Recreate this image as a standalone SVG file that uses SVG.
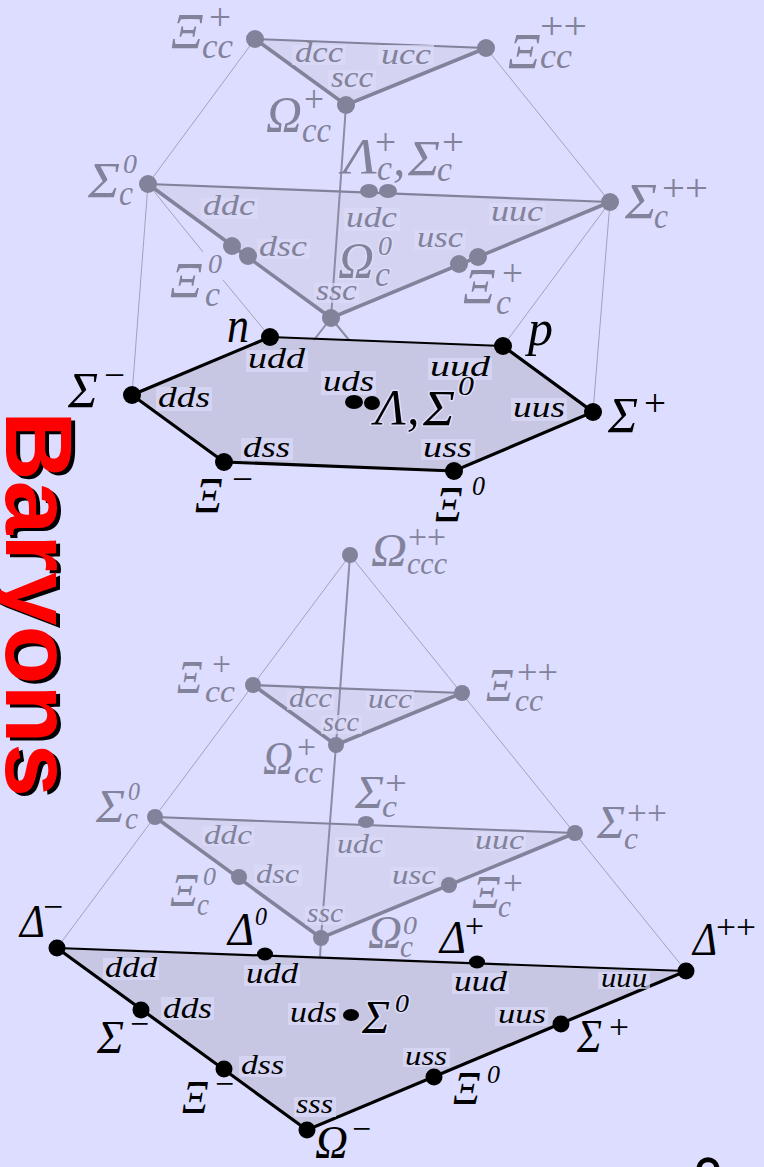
<svg xmlns="http://www.w3.org/2000/svg" width="764" height="1167" viewBox="0 0 764 1167">
<style>
text{font-family:"Liberation Serif","Times New Roman",serif;font-style:italic}
.up{font-family:"Liberation Serif","Times New Roman",serif;font-style:normal}
.k{fill:#000}.g{fill:#82829b}
.k circle,.k ellipse{fill:#000}.g circle,.g ellipse{fill:#82829b}
.q rect{fill:#dcdcf9;opacity:.7}
.qa{font-size:29px}.qb{font-size:27px}
.m{font-size:50px}.s{font-size:36px}.u{font-size:38px}.z{font-size:28px}
.mb{font-size:46px}.sb{font-size:32px}.ub{font-size:34px}.zb{font-size:26px}
.h{paint-order:stroke;stroke:#dcdcf9;stroke-width:3px;stroke-linejoin:round}
.thin{fill:none;stroke:#a2a2b8;stroke-width:1}
.mid{fill:none;stroke:#8c8ca4;stroke-width:2}
.gt{fill:none;stroke:#82829b;stroke-width:2.2}
.gk{fill:none;stroke:#82829b;stroke-width:3.6}
.bt{fill:none;stroke:#000;stroke-width:2.2}
.bk{fill:none;stroke:#000;stroke-width:3.2}
.fa{fill:#c7c7e4}.fb{fill:#d4d4f2}
.ttl{font-family:"Liberation Sans",Arial,sans-serif;font-weight:700;font-style:normal;font-size:94px}
</style>
<rect width="764" height="1167" fill="#ddddff"/>
<g id="faces">
<polygon class="fb" points="255,39 486,48 346,105"/>
<polygon class="fb" points="148,184 610,202 331,318"/>
<polygon class="fa" points="270,337 503,346 593,412 454,471 224,462 132,395"/>
<polygon class="fb" points="253,685 462,693 336,745"/>
<polygon class="fb" points="155,817 575,833 321,938"/>
<polygon class="fa" points="57,948 686,971 307,1130"/>
</g>
<g id="connectors">
<path class="thin" d="M255 39L148 184M486 48L610 202M148 184L132 395M610 202L593 412M610 202L503 346M148 184L203 252M223 280L270 337"/>
<path class="mid" d="M346 105L331 318M331 318L314 340M331 318L349 340"/>
<path class="gt" d="M255 39L486 48M148 184L610 202"/>
<path class="gk" d="M255 39L346 105L486 48M148 184L331 318L610 202"/>
<path class="bt" d="M270 337L503 346"/>
<path class="bk" d="M503 346L593 412L454 471L224 462L132 395L270 337"/>
<path class="thin" d="M57 948L350 555L686 971"/>
<path class="mid" d="M350 555L336 745L321 938L320 958"/>
<path class="gt" d="M253 685L462 693M155 817L575 833"/>
<path class="gk" d="M253 685L336 745L462 693M155 817L321 938L575 833"/>
<path class="bt" d="M57 948L686 971"/>
<path class="bk" d="M57 948L307 1130L686 971"/>
</g>
<g id="top-charm2" class="g">
<g id="t-xicc-p"><circle cx="255" cy="39" r="9"/><text class="m" x="171" y="48" textLength="32" lengthAdjust="spacingAndGlyphs">Ξ</text><text class="u up" x="209" y="30" textLength="22" lengthAdjust="spacingAndGlyphs">+</text><text class="s" x="202" y="58" textLength="31" lengthAdjust="spacingAndGlyphs">cc</text><g class="q"><rect x="292" y="45" width="54" height="20"/><text class="qa" x="295" y="62" textLength="48" lengthAdjust="spacingAndGlyphs">dcc</text></g></g>
<g id="t-xicc-pp"><circle cx="486" cy="48" r="9"/><text class="m" x="508" y="68" textLength="32" lengthAdjust="spacingAndGlyphs">Ξ</text><text class="u up" x="540" y="39" textLength="47" lengthAdjust="spacingAndGlyphs">++</text><text class="s" x="540" y="68" textLength="32" lengthAdjust="spacingAndGlyphs">cc</text><g class="q"><rect x="378" y="45" width="56" height="20"/><text class="qa" x="381" y="64" textLength="50" lengthAdjust="spacingAndGlyphs">ucc</text></g></g>
<g id="t-omcc"><circle cx="346" cy="105" r="9"/><g class="q"><rect x="328" y="70" width="48" height="20"/><text class="qa" x="331" y="87" textLength="42" lengthAdjust="spacingAndGlyphs">scc</text></g><text class="m" x="266" y="131" textLength="36" lengthAdjust="spacingAndGlyphs">Ω</text><text class="u up" x="304" y="112" textLength="20" lengthAdjust="spacingAndGlyphs">+</text><text class="s" x="302" y="142" textLength="29" lengthAdjust="spacingAndGlyphs">cc</text></g>
</g>
<g id="top-charm1" class="g">
<g id="t-sigc0"><circle cx="148" cy="184" r="9"/><text class="m" x="88" y="197" textLength="32" lengthAdjust="spacingAndGlyphs">Σ</text><text class="z" x="123" y="173" textLength="14" lengthAdjust="spacingAndGlyphs">0</text><text class="s" x="119" y="205" textLength="14" lengthAdjust="spacingAndGlyphs">c</text><g class="q"><rect x="201" y="198" width="57" height="21"/><text class="qa" x="203" y="215" textLength="52" lengthAdjust="spacingAndGlyphs">ddc</text></g></g>
<g id="t-lamc"><ellipse cx="369" cy="191" rx="9" ry="7"/><ellipse cx="388" cy="191" rx="9" ry="7"/><text class="m" x="343" y="173" textLength="34" lengthAdjust="spacingAndGlyphs">Λ</text><text class="u up" x="375" y="155" textLength="21" lengthAdjust="spacingAndGlyphs">+</text><text class="s" x="377" y="180" textLength="15" lengthAdjust="spacingAndGlyphs">c</text><text class="m" x="393" y="175">,</text><text class="m" x="408" y="175" textLength="32" lengthAdjust="spacingAndGlyphs">Σ</text><text class="u up" x="442" y="155" textLength="22" lengthAdjust="spacingAndGlyphs">+</text><text class="s" x="437" y="181" textLength="15" lengthAdjust="spacingAndGlyphs">c</text><g class="q"><rect x="344" y="208" width="56" height="23"/><text class="qa" x="346" y="227" textLength="51" lengthAdjust="spacingAndGlyphs">udc</text></g></g>
<g id="t-sigcpp"><circle cx="610" cy="202" r="9"/><text class="m" x="625" y="218" textLength="32" lengthAdjust="spacingAndGlyphs">Σ</text><text class="u up" x="662" y="201" textLength="46" lengthAdjust="spacingAndGlyphs">++</text><text class="s" x="654" y="228" textLength="14" lengthAdjust="spacingAndGlyphs">c</text><g class="q"><rect x="489" y="203" width="57" height="22"/><text class="qa" x="491" y="221" textLength="52" lengthAdjust="spacingAndGlyphs">uuc</text></g></g>
<g id="t-xic0"><circle cx="232" cy="246" r="9"/><circle cx="248" cy="256" r="9"/><text class="m" x="170" y="297" textLength="32" lengthAdjust="spacingAndGlyphs">Ξ</text><text class="z" x="208" y="273" textLength="14" lengthAdjust="spacingAndGlyphs">0</text><text class="s" x="205" y="306" textLength="15" lengthAdjust="spacingAndGlyphs">c</text><g class="q"><rect x="257" y="239" width="53" height="20"/><text class="qa" x="259" y="256" textLength="48" lengthAdjust="spacingAndGlyphs">dsc</text></g></g>
<g id="t-xicp"><circle cx="459" cy="264" r="9"/><circle cx="478" cy="257" r="9"/><g class="q"><rect x="414" y="230" width="52" height="20"/><text class="qa" x="417" y="247" textLength="46" lengthAdjust="spacingAndGlyphs">usc</text></g><text class="m" x="463" y="303" textLength="32" lengthAdjust="spacingAndGlyphs">Ξ</text><text class="u up" x="502" y="286" textLength="21" lengthAdjust="spacingAndGlyphs">+</text><text class="s" x="496" y="314" textLength="15" lengthAdjust="spacingAndGlyphs">c</text></g>
<g id="t-omc"><circle cx="331" cy="318" r="9"/><g class="q"><rect x="314" y="283" width="45" height="20"/><text class="qa" x="316" y="300" textLength="41" lengthAdjust="spacingAndGlyphs">ssc</text></g><text class="m h" x="338" y="277" textLength="36" lengthAdjust="spacingAndGlyphs">Ω</text><text class="z h" x="378" y="255" textLength="14" lengthAdjust="spacingAndGlyphs">0</text><text class="s h" x="375" y="286" textLength="15" lengthAdjust="spacingAndGlyphs">c</text></g>
</g>
<g id="top-light" class="k">
<g id="t-n"><circle cx="270" cy="337" r="9"/><text class="m" x="227" y="342" textLength="22" lengthAdjust="spacingAndGlyphs">n</text><g class="q"><rect x="246" y="350" width="62" height="22"/><text class="qa" x="248" y="368" textLength="57" lengthAdjust="spacingAndGlyphs">udd</text></g></g>
<g id="t-p"><circle cx="503" cy="346" r="9"/><text class="m" x="528" y="345" textLength="25" lengthAdjust="spacingAndGlyphs">p</text><g class="q"><rect x="428" y="358" width="64" height="22"/><text class="qa" x="430" y="376" textLength="60" lengthAdjust="spacingAndGlyphs">uud</text></g></g>
<g id="t-sigm"><circle cx="132" cy="395" r="9"/><text class="m" x="68" y="407" textLength="30" lengthAdjust="spacingAndGlyphs">Σ</text><text class="u up" x="104" y="388" textLength="21" lengthAdjust="spacingAndGlyphs">−</text><g class="q"><rect x="156" y="387" width="56" height="24"/><text class="qa" x="158" y="407" textLength="52" lengthAdjust="spacingAndGlyphs">dds</text></g></g>
<g id="t-lam"><ellipse cx="354" cy="402" rx="9" ry="7"/><ellipse cx="372" cy="403" rx="8" ry="7"/><g class="q"><rect x="321" y="371" width="55" height="24"/><text class="qa" x="323" y="391" textLength="51" lengthAdjust="spacingAndGlyphs">uds</text></g><text class="m h" x="375" y="424" textLength="31" lengthAdjust="spacingAndGlyphs">Λ</text><text class="m h" x="407" y="424">,</text><text class="m h" x="423" y="425" textLength="32" lengthAdjust="spacingAndGlyphs">Σ</text><text class="z h" x="458" y="395" textLength="16" lengthAdjust="spacingAndGlyphs">0</text></g>
<g id="t-sigp"><circle cx="593" cy="412" r="9"/><text class="m" x="608" y="432" textLength="30" lengthAdjust="spacingAndGlyphs">Σ</text><text class="u up" x="644" y="416" textLength="22" lengthAdjust="spacingAndGlyphs">+</text><g class="q"><rect x="511" y="398" width="56" height="23"/><text class="qa" x="513" y="417" textLength="52" lengthAdjust="spacingAndGlyphs">uus</text></g></g>
<g id="t-xim"><circle cx="224" cy="462" r="9"/><g class="q"><rect x="241" y="438" width="52" height="22"/><text class="qa" x="243" y="457" textLength="47" lengthAdjust="spacingAndGlyphs">dss</text></g><text class="m" x="195" y="512" textLength="27" lengthAdjust="spacingAndGlyphs">Ξ</text><text class="u up" x="232" y="492" textLength="21" lengthAdjust="spacingAndGlyphs">−</text></g>
<g id="t-xi0"><circle cx="454" cy="471" r="9"/><g class="q"><rect x="421" y="439" width="54" height="21"/><text class="qa" x="423" y="457" textLength="49" lengthAdjust="spacingAndGlyphs">uss</text></g><text class="m" x="435" y="521" textLength="27" lengthAdjust="spacingAndGlyphs">Ξ</text><text class="z" x="472" y="495" textLength="13" lengthAdjust="spacingAndGlyphs">0</text></g>
</g>
<g id="bot-charm3" class="g">
<g id="b-omccc"><circle cx="350" cy="555" r="8"/><text class="mb" x="371" y="566" textLength="36" lengthAdjust="spacingAndGlyphs">Ω</text><text class="ub up" x="408" y="548" textLength="38" lengthAdjust="spacingAndGlyphs">++</text><text class="sb" x="407" y="574" textLength="40" lengthAdjust="spacingAndGlyphs">ccc</text></g>
</g>
<g id="bot-charm2" class="g">
<g id="b-xicc-p"><circle cx="253" cy="685" r="8"/><text class="mb" x="177" y="693" textLength="25" lengthAdjust="spacingAndGlyphs">Ξ</text><text class="ub up" x="212" y="675" textLength="19" lengthAdjust="spacingAndGlyphs">+</text><text class="sb" x="205" y="702" textLength="30" lengthAdjust="spacingAndGlyphs">cc</text><g class="q"><rect x="287" y="691" width="47" height="19"/><text class="qb" x="289" y="707" textLength="43" lengthAdjust="spacingAndGlyphs">dcc</text></g></g>
<g id="b-xicc-pp"><circle cx="462" cy="693" r="8"/><text class="mb" x="486" y="701" textLength="27" lengthAdjust="spacingAndGlyphs">Ξ</text><text class="ub up" x="517" y="683" textLength="41" lengthAdjust="spacingAndGlyphs">++</text><text class="sb" x="515" y="711" textLength="28" lengthAdjust="spacingAndGlyphs">cc</text><g class="q"><rect x="366" y="691" width="48" height="19"/><text class="qb" x="368" y="708" textLength="44" lengthAdjust="spacingAndGlyphs">ucc</text></g></g>
<g id="b-omcc"><circle cx="336" cy="745" r="8"/><g class="q"><rect x="321" y="715" width="41" height="19"/><text class="qb" x="323" y="731" textLength="36" lengthAdjust="spacingAndGlyphs">scc</text></g><text class="mb" x="263" y="774" textLength="30" lengthAdjust="spacingAndGlyphs">Ω</text><text class="ub up" x="297" y="758" textLength="19" lengthAdjust="spacingAndGlyphs">+</text><text class="sb" x="294" y="783" textLength="29" lengthAdjust="spacingAndGlyphs">cc</text></g>
</g>
<g id="bot-charm1" class="g">
<g id="b-sigc0"><circle cx="155" cy="817" r="8"/><text class="mb" x="96" y="822" textLength="29" lengthAdjust="spacingAndGlyphs">Σ</text><text class="zb" x="128" y="800" textLength="12" lengthAdjust="spacingAndGlyphs">0</text><text class="sb" x="125" y="829" textLength="13" lengthAdjust="spacingAndGlyphs">c</text><g class="q"><rect x="202" y="826" width="52" height="20"/><text class="qb" x="204" y="844" textLength="48" lengthAdjust="spacingAndGlyphs">ddc</text></g></g>
<g id="b-sigcp"><ellipse cx="366" cy="822" rx="8" ry="6"/><text class="mb" x="355" y="808" textLength="29" lengthAdjust="spacingAndGlyphs">Σ</text><text class="ub up" x="385" y="794" textLength="22" lengthAdjust="spacingAndGlyphs">+</text><text class="sb" x="382" y="817" textLength="15" lengthAdjust="spacingAndGlyphs">c</text><g class="q"><rect x="335" y="837" width="50" height="20"/><text class="qb" x="337" y="853" textLength="46" lengthAdjust="spacingAndGlyphs">udc</text></g></g>
<g id="b-sigcpp"><circle cx="575" cy="833" r="8"/><text class="mb" x="597" y="838" textLength="28" lengthAdjust="spacingAndGlyphs">Σ</text><text class="ub up" x="627" y="824" textLength="40" lengthAdjust="spacingAndGlyphs">++</text><text class="sb" x="624" y="849" textLength="14" lengthAdjust="spacingAndGlyphs">c</text><g class="q"><rect x="473" y="832" width="53" height="19"/><text class="qb" x="475" y="849" textLength="49" lengthAdjust="spacingAndGlyphs">uuc</text></g></g>
<g id="b-xic0"><circle cx="239" cy="877" r="8"/><text class="mb" x="170" y="906" textLength="28" lengthAdjust="spacingAndGlyphs">Ξ</text><text class="zb" x="203" y="885" textLength="13" lengthAdjust="spacingAndGlyphs">0</text><text class="sb" x="197" y="915" textLength="12" lengthAdjust="spacingAndGlyphs">c</text><g class="q"><rect x="254" y="865" width="48" height="21"/><text class="qb" x="256" y="883" textLength="43" lengthAdjust="spacingAndGlyphs">dsc</text></g></g>
<g id="b-xicp"><circle cx="449" cy="885" r="8"/><g class="q"><rect x="390" y="867" width="48" height="20"/><text class="qb" x="392" y="884" textLength="44" lengthAdjust="spacingAndGlyphs">usc</text></g><text class="mb" x="472" y="908" textLength="28" lengthAdjust="spacingAndGlyphs">Ξ</text><text class="ub up" x="503" y="894" textLength="20" lengthAdjust="spacingAndGlyphs">+</text><text class="sb" x="498" y="917" textLength="13" lengthAdjust="spacingAndGlyphs">c</text></g>
<g id="b-omc"><circle cx="321" cy="938" r="8"/><g class="q"><rect x="305" y="906" width="40" height="19"/><text class="qb" x="307" y="922" textLength="36" lengthAdjust="spacingAndGlyphs">ssc</text></g><text class="mb" x="368" y="948" textLength="34" lengthAdjust="spacingAndGlyphs">Ω</text><text class="zb" x="403" y="934" textLength="14" lengthAdjust="spacingAndGlyphs">0</text><text class="sb" x="400" y="957" textLength="13" lengthAdjust="spacingAndGlyphs">c</text></g>
</g>
<g id="bot-light" class="k">
<g id="b-dm"><circle cx="57" cy="948" r="8.5"/><text class="mb" x="20" y="937" textLength="25" lengthAdjust="spacingAndGlyphs">Δ</text><text class="ub up" x="43" y="918" textLength="20" lengthAdjust="spacingAndGlyphs">−</text><g class="q"><rect x="103" y="958" width="56" height="22"/><text class="qa" x="105" y="977" textLength="52" lengthAdjust="spacingAndGlyphs">ddd</text></g></g>
<g id="b-d0"><ellipse cx="265" cy="954" rx="8" ry="6.5"/><text class="mb" x="228" y="945" textLength="26" lengthAdjust="spacingAndGlyphs">Δ</text><text class="zb" x="255" y="925" textLength="12" lengthAdjust="spacingAndGlyphs">0</text><g class="q"><rect x="244" y="965" width="56" height="21"/><text class="qa" x="246" y="983" textLength="52" lengthAdjust="spacingAndGlyphs">udd</text></g></g>
<g id="b-dp"><ellipse cx="477" cy="962" rx="8" ry="6.5"/><text class="mb" x="440" y="953" textLength="26" lengthAdjust="spacingAndGlyphs">Δ</text><text class="ub up" x="465" y="937" textLength="19" lengthAdjust="spacingAndGlyphs">+</text><g class="q"><rect x="452" y="973" width="57" height="21"/><text class="qa" x="454" y="991" textLength="53" lengthAdjust="spacingAndGlyphs">uud</text></g></g>
<g id="b-dpp"><circle cx="686" cy="971" r="8.5"/><text class="mb" x="693" y="955" textLength="24" lengthAdjust="spacingAndGlyphs">Δ</text><text class="ub up" x="716" y="938" textLength="40" lengthAdjust="spacingAndGlyphs">++</text><g class="q"><rect x="598" y="972" width="52" height="17"/><text class="qb" x="601" y="987" textLength="46" lengthAdjust="spacingAndGlyphs">uuu</text></g></g>
<g id="b-sigm"><circle cx="141" cy="1010" r="8.5"/><text class="mb" x="97" y="1053" textLength="27" lengthAdjust="spacingAndGlyphs">Σ</text><text class="ub up" x="130" y="1035" textLength="19" lengthAdjust="spacingAndGlyphs">−</text><g class="q"><rect x="161" y="997" width="53" height="23"/><text class="qa" x="163" y="1018" textLength="49" lengthAdjust="spacingAndGlyphs">dds</text></g></g>
<g id="b-sig0"><ellipse cx="351" cy="1015" rx="8" ry="6"/><g class="q"><rect x="288" y="1003" width="51" height="22"/><text class="qa" x="290" y="1022" textLength="47" lengthAdjust="spacingAndGlyphs">uds</text></g><text class="mb h" x="362" y="1033" textLength="28" lengthAdjust="spacingAndGlyphs">Σ</text><text class="zb h" x="395" y="1012" textLength="14" lengthAdjust="spacingAndGlyphs">0</text></g>
<g id="b-sigp"><circle cx="561" cy="1024" r="8.5"/><text class="mb" x="577" y="1052" textLength="25" lengthAdjust="spacingAndGlyphs">Σ</text><text class="ub up" x="609" y="1038" textLength="20" lengthAdjust="spacingAndGlyphs">+</text><g class="q"><rect x="495" y="1007" width="53" height="19"/><text class="qb" x="498" y="1023" textLength="48" lengthAdjust="spacingAndGlyphs">uus</text></g></g>
<g id="b-xim"><circle cx="224" cy="1069" r="8.5"/><g class="q"><rect x="239" y="1056" width="47" height="21"/><text class="qb" x="241" y="1074" textLength="43" lengthAdjust="spacingAndGlyphs">dss</text></g><text class="mb" x="182" y="1113" textLength="26" lengthAdjust="spacingAndGlyphs">Ξ</text><text class="ub up" x="215" y="1095" textLength="19" lengthAdjust="spacingAndGlyphs">−</text></g>
<g id="b-xi0"><circle cx="434" cy="1077" r="8.5"/><g class="q"><rect x="403" y="1048" width="47" height="19"/><text class="qb" x="405" y="1065" textLength="42" lengthAdjust="spacingAndGlyphs">uss</text></g><text class="mb" x="453" y="1104" textLength="27" lengthAdjust="spacingAndGlyphs">Ξ</text><text class="zb" x="487" y="1083" textLength="13" lengthAdjust="spacingAndGlyphs">0</text></g>
<g id="b-omm"><circle cx="307" cy="1130" r="8.5"/><g class="q"><rect x="294" y="1097" width="42" height="20"/><text class="qb" x="296" y="1113" textLength="37" lengthAdjust="spacingAndGlyphs">sss</text></g><text class="mb" x="315" y="1158" textLength="33" lengthAdjust="spacingAndGlyphs">Ω</text><text class="ub up" x="352" y="1140" textLength="19" lengthAdjust="spacingAndGlyphs">−</text></g>
</g>
<g id="title">
<text class="ttl" transform="translate(10 414) rotate(90)" fill="#000" textLength="386" lengthAdjust="spacingAndGlyphs">Baryons</text>
<text class="ttl" transform="translate(6 411) rotate(90)" fill="#f00" textLength="386" lengthAdjust="spacingAndGlyphs">Baryons</text>
</g>
<path d="M699 1168C700 1157 716 1157 717 1168" fill="none" stroke="#000" stroke-width="5"/>
</svg>
